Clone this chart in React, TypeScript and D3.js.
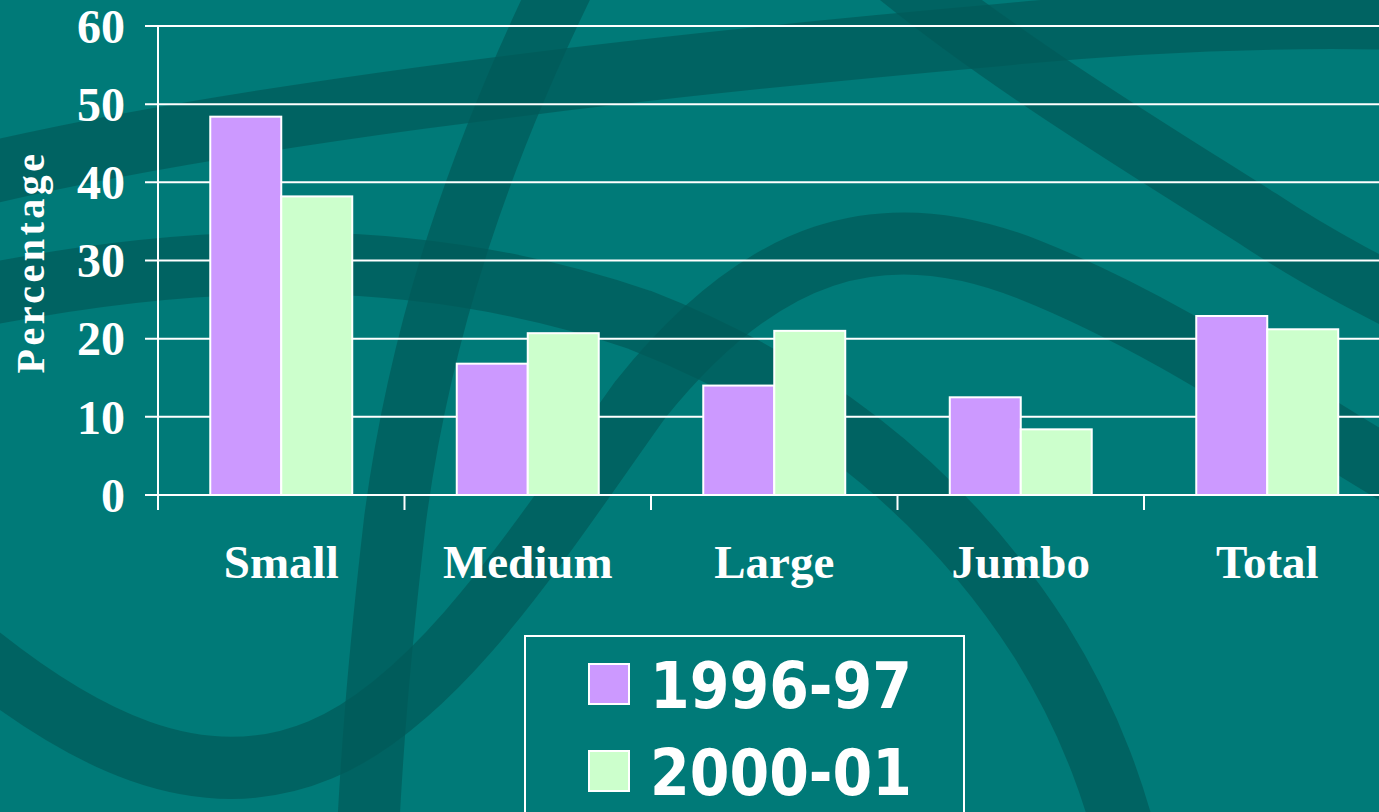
import React, { useEffect, useRef } from 'react';
import * as d3 from 'd3';

const categories = ['Small', 'Medium', 'Large', 'Jumbo', 'Total'];
const seriesNames = ['1996-97', '2000-01'];
const values1996 = [48.4, 16.8, 14.0, 12.5, 22.9];
const values2000 = [38.2, 20.7, 21.0, 8.4, 21.2];
const yTicks = [0, 10, 20, 30, 40, 50, 60];
const colors = ['#cc99ff', '#ccffcc'];

const App = () => {
  const svgRef = useRef<SVGSVGElement>(null);

  useEffect(() => {
    const width = 1379;
    const height = 812;
    const svg = d3.select(svgRef.current);
    svg.selectAll('*').remove();
    svg.attr('width', width).attr('height', height);

    // background
    svg.append('rect').attr('width', width).attr('height', height).attr('fill', '#007a78');

    // decorative dark swooshes
    const swooshes = [
      'M-40,180 C200,120 600,70 1000,35 C1150,20 1300,15 1440,20',
      'M-40,300 C200,250 420,245 640,320 C820,390 950,500 1040,640 C1090,720 1120,800 1140,900',
      'M575,-40 C480,150 420,330 395,520 C380,650 370,760 365,900',
      'M-40,640 C80,740 200,800 320,750 C440,700 540,540 640,400 C760,250 880,210 1030,270 C1180,330 1300,420 1440,500',
      'M880,-40 C1000,60 1150,150 1260,220 C1320,260 1380,290 1440,320',
    ];
    svg
      .append('g')
      .selectAll('path')
      .data(swooshes)
      .enter()
      .append('path')
      .attr('d', (d) => d)
      .attr('fill', 'none')
      .attr('stroke', '#005a58')
      .attr('stroke-opacity', 0.7)
      .attr('stroke-width', 62);

    const margin = { top: 26, left: 158, bottom: 495 };
    const step = 246.5;

    const x = d3
      .scaleBand()
      .domain(categories)
      .range([margin.left, margin.left + step * categories.length])
      .paddingInner(0.424)
      .paddingOuter(0.212);

    const xSub = d3.scaleBand().domain(seriesNames).range([0, x.bandwidth()]);

    const y = d3.scaleLinear().domain([0, 60]).range([margin.bottom, margin.top]);

    // gridlines
    svg
      .append('g')
      .selectAll('line')
      .data(yTicks)
      .enter()
      .append('line')
      .attr('x1', 145)
      .attr('x2', width)
      .attr('y1', (d) => y(d))
      .attr('y2', (d) => y(d))
      .attr('stroke', '#ffffff')
      .attr('stroke-width', 2);

    // y axis line
    svg
      .append('line')
      .attr('x1', margin.left)
      .attr('x2', margin.left)
      .attr('y1', y(60))
      .attr('y2', margin.bottom + 15)
      .attr('stroke', '#ffffff')
      .attr('stroke-width', 2);

    // x ticks at band boundaries
    svg
      .append('g')
      .selectAll('line')
      .data(categories)
      .enter()
      .append('line')
      .attr('x1', (d) => (x(d) as number) - (step - x.bandwidth()) / 2)
      .attr('x2', (d) => (x(d) as number) - (step - x.bandwidth()) / 2)
      .attr('y1', margin.bottom)
      .attr('y2', margin.bottom + 15)
      .attr('stroke', '#ffffff')
      .attr('stroke-width', 2);

    const serif = "'Liberation Serif', 'Times New Roman', Times, serif";

    // y labels
    svg
      .append('g')
      .selectAll('text')
      .data(yTicks)
      .enter()
      .append('text')
      .attr('x', 125)
      .attr('y', (d) => y(d))
      .attr('dy', '0.35em')
      .attr('text-anchor', 'end')
      .style('font-family', serif)
      .style('font-weight', 'bold')
      .style('font-size', '48px')
      .style('fill', '#ffffff')
      .text((d) => d);

    // y axis title
    svg
      .append('text')
      .attr('transform', 'translate(44,262) rotate(-90)')
      .attr('text-anchor', 'middle')
      .style('font-family', serif)
      .style('font-weight', 'bold')
      .style('font-size', '40px')
      .style('letter-spacing', '3.5px')
      .style('fill', '#ffffff')
      .text('Percentage');

    // bars
    const series = [values1996, values2000];
    series.forEach((vals, si) => {
      svg
        .append('g')
        .selectAll('rect')
        .data(categories)
        .enter()
        .append('rect')
        .attr('x', (d) => (x(d) as number) + (xSub(seriesNames[si]) as number))
        .attr('y', (d, i) => y(vals[i]))
        .attr('width', xSub.bandwidth())
        .attr('height', (d, i) => y(0) - y(vals[i]))
        .attr('fill', colors[si])
        .attr('stroke', '#ffffff')
        .attr('stroke-width', 2);
    });

    // category labels
    svg
      .append('g')
      .selectAll('text')
      .data(categories)
      .enter()
      .append('text')
      .attr('x', (d) => (x(d) as number) + x.bandwidth() / 2)
      .attr('y', 578)
      .attr('text-anchor', 'middle')
      .style('font-family', serif)
      .style('font-weight', 'bold')
      .style('font-size', '47px')
      .style('fill', '#ffffff')
      .text((d) => d);

    // legend
    const legend = svg.append('g');
    legend
      .append('rect')
      .attr('x', 525)
      .attr('y', 636)
      .attr('width', 439)
      .attr('height', 200)
      .attr('fill', 'none')
      .attr('stroke', '#ffffff')
      .attr('stroke-width', 2);

    const items = legend
      .selectAll('g')
      .data(seriesNames)
      .enter()
      .append('g')
      .attr('transform', (d, i) => `translate(589,${664 + i * 87})`);

    items
      .append('rect')
      .attr('width', 40)
      .attr('height', 40)
      .attr('fill', (d, i) => colors[i])
      .attr('stroke', '#ffffff')
      .attr('stroke-width', 2);

    items
      .append('text')
      .attr('x', 61)
      .attr('y', 44)
      .attr('textLength', 262)
      .attr('lengthAdjust', 'spacingAndGlyphs')
      .style('font-family', "'DejaVu Sans', Verdana, sans-serif")
      .style('font-weight', 'bold')
      .style('font-size', '64px')
      .style('fill', '#ffffff')
      .text((d) => d);
  }, []);

  return <svg ref={svgRef} style={{ position: 'absolute', left: 0, top: 0, display: 'block' }}></svg>;
};

export default App;
